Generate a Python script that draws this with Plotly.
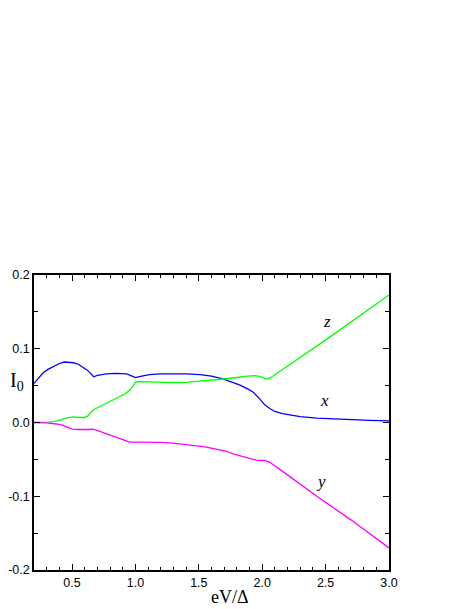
import plotly.graph_objects as go

# curve x (blue)
x_blue = [0.20, 0.24, 0.27, 0.31, 0.35, 0.40, 0.44, 0.48, 0.51, 0.55, 0.59, 0.62, 0.645, 0.67, 0.70,
          0.77, 0.85, 0.93, 0.96, 1.00, 1.05, 1.11, 1.20, 1.30, 1.40, 1.51, 1.60, 1.69, 1.76, 1.82,
          1.88, 1.93, 1.98, 2.02, 2.06, 2.10, 2.16, 2.22, 2.30, 2.43, 2.55, 2.69, 2.85, 3.00]
i_blue = [0.053, 0.061, 0.067, 0.072, 0.076, 0.080, 0.082, 0.082, 0.081, 0.079, 0.075, 0.071, 0.067, 0.062, 0.064,
          0.066, 0.0665, 0.066, 0.064, 0.061, 0.063, 0.065, 0.066, 0.0665, 0.066, 0.065, 0.063, 0.059, 0.055, 0.051,
          0.046, 0.041, 0.032, 0.024, 0.019, 0.015, 0.012, 0.0105, 0.008, 0.006, 0.0048, 0.0037, 0.0028, 0.0022]

# curve z (green)
x_green = [0.20, 0.27, 0.32, 0.36, 0.40, 0.45, 0.51, 0.56, 0.60, 0.625, 0.645, 0.665, 0.70, 0.77, 0.83,
           0.88, 0.92, 0.955, 0.98, 1.00, 1.05, 1.11, 1.20, 1.29, 1.40, 1.50, 1.56, 1.64, 1.72, 1.80,
           1.86, 1.90, 1.94, 1.98, 2.01, 2.03, 2.06, 2.085, 2.12, 2.20, 2.51, 3.00]
i_green = [0.0, 0.0, 0.0005, 0.0015, 0.003, 0.006, 0.0075, 0.0068, 0.0068, 0.009, 0.013, 0.017, 0.020, 0.026, 0.031,
           0.035, 0.039, 0.044, 0.049, 0.055, 0.0555, 0.055, 0.0545, 0.054, 0.0545, 0.0555, 0.057, 0.058, 0.059, 0.061,
           0.0625, 0.0635, 0.0635, 0.0625, 0.060, 0.059, 0.060, 0.063, 0.067, 0.076, 0.113, 0.173]

# curve y (magenta)
x_mag = [0.20, 0.25, 0.30, 0.376, 0.43, 0.47, 0.50, 0.55, 0.60, 0.64, 0.665, 0.69, 0.72, 0.80, 0.88,
         0.955, 0.98, 1.03, 1.11, 1.20, 1.30, 1.40, 1.50, 1.56, 1.65, 1.72, 1.77, 1.85, 1.92, 1.95,
         1.99, 2.02, 2.06, 2.11, 2.14, 2.20, 2.43, 2.70, 3.00]
i_mag = [0.0, 0.0, -0.0005, -0.002, -0.004, -0.007, -0.009, -0.0095, -0.010, -0.0095, -0.009, -0.010, -0.012, -0.017, -0.022,
         -0.0266, -0.0266, -0.0266, -0.0266, -0.027, -0.028, -0.0295, -0.032, -0.0334, -0.036, -0.039, -0.0425, -0.046, -0.049, -0.051,
         -0.0515, -0.0515, -0.054, -0.060, -0.064, -0.071, -0.100, -0.132, -0.170]

labels = ["z", "x", "y"]
label_x = [2.51, 2.49, 2.46]
label_y = [0.137, 0.030, -0.080]

x_ticks = [0.5, 1.0, 1.5, 2.0, 2.5, 3.0]
y_ticks = [-0.2, -0.1, 0.0, 0.1, 0.2]

fig = go.Figure()
for xs, ys, c in [(x_blue, i_blue, "#0000FF"), (x_green, i_green, "#00FF00"), (x_mag, i_mag, "#FF00FF")]:
    fig.add_trace(go.Scatter(x=xs, y=ys, mode="lines", line=dict(color=c, width=1.3), hoverinfo="skip"))

for t, lx, ly in zip(labels, label_x, label_y):
    fig.add_annotation(x=lx, y=ly, text="<i>%s</i>" % t, showarrow=False,
                       font=dict(family="Liberation Serif", size=17, color="black"))

# axis titles (page has an 8px body margin, margins below compensate)
fig.add_annotation(xref="paper", yref="paper", x=-0.073, y=0.64, xanchor="left", yanchor="middle",
                   text="I<sub>0</sub>", showarrow=False,
                   font=dict(family="Liberation Serif", size=20, color="black"))
fig.add_annotation(xref="paper", yref="paper", x=0.551, y=-0.093, xanchor="center", yanchor="middle",
                   text="eV/Δ", showarrow=False,
                   font=dict(family="Liberation Serif", size=18, color="black"))

axis_common = dict(showline=True, linecolor="black", linewidth=1.5, mirror="ticks", ticks="inside",
                   ticklen=6, tickwidth=1.3, tickcolor="black", showgrid=False, zeroline=False,
                   automargin=False,
                   tickfont=dict(family="Liberation Sans", size=12.5, color="black"))

fig.update_xaxes(range=[0.2, 3.0], tickvals=x_ticks, ticktext=["%.1f" % v for v in x_ticks],
                 minor=dict(dtick=0.1, tick0=0.2, ticks="inside", ticklen=3, tickwidth=1, tickcolor="black"),
                 **axis_common)
fig.update_yaxes(range=[-0.2, 0.2], tickvals=y_ticks, ticktext=["%.1f" % v for v in y_ticks],
                 minor=dict(dtick=0.05, tick0=0, ticks="inside", ticklen=4, tickwidth=1, tickcolor="black"),
                 **axis_common)

fig.update_layout(width=471, height=609, showlegend=False, plot_bgcolor="white", paper_bgcolor="white",
                  margin=dict(l=26, r=90, t=267, b=47))

fig.write_html("out.html")
